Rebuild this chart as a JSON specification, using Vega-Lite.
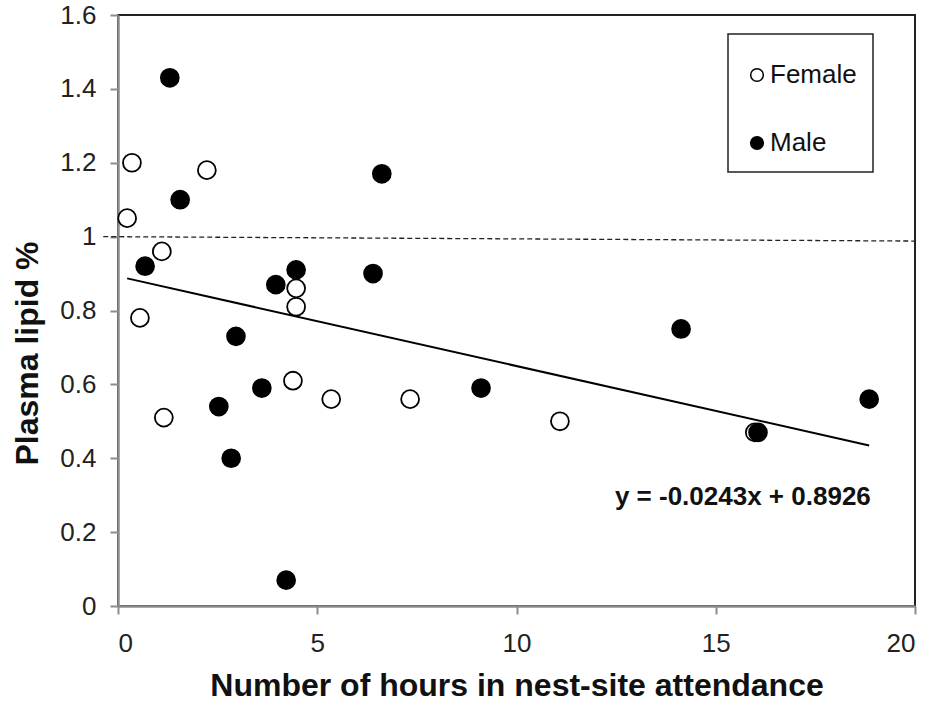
{
  "$schema": "https://vega.github.io/schema/vega-lite/v6.json",
  "width": 797,
  "height": 591,
  "autosize": {"type": "none"},
  "padding": {"left": 118, "top": 15, "right": 15, "bottom": 104},
  "background": "white",
  "config": {
    "font": "Liberation Sans",
    "view": {"stroke": "#222", "strokeWidth": 2},
    "axis": {
      "grid": false,
      "domainColor": "#8c8c8c",
      "domainWidth": 2.5,
      "tickColor": "#8c8c8c",
      "tickWidth": 2,
      "tickSize": 8,
      "labelFont": "Liberation Sans",
      "labelFontSize": 26,
      "labelColor": "#222",
      "titleFont": "Liberation Sans",
      "titleFontSize": 32,
      "titleFontWeight": "bold",
      "titleColor": "#111"
    },
    "legend": {
      "orient": "none",
      "legendX": 610,
      "legendY": 19,
      "strokeColor": "#222",
      "strokeWidth": 1.5,
      "fillColor": "white",
      "padding": 16,
      "rowPadding": 42,
      "titleFontSize": 1,
      "titlePadding": 11,
      "labelFont": "Liberation Sans",
      "labelFontSize": 26,
      "labelColor": "#111",
      "labelOffset": 0,
      "symbolSize": 160,
      "symbolStrokeColor": "black",
      "symbolStrokeWidth": 1.5,
      "symbolType": "circle"
    }
  },
  "datasets": {
    "points": [
      {"sex": "Female", "hours": 0.23, "lipid": 1.05},
      {"sex": "Female", "hours": 0.35, "lipid": 1.20},
      {"sex": "Female", "hours": 2.23, "lipid": 1.18},
      {"sex": "Female", "hours": 1.10, "lipid": 0.96},
      {"sex": "Female", "hours": 0.55, "lipid": 0.78},
      {"sex": "Female", "hours": 1.15, "lipid": 0.51},
      {"sex": "Female", "hours": 4.47, "lipid": 0.86},
      {"sex": "Female", "hours": 4.47, "lipid": 0.81},
      {"sex": "Female", "hours": 4.39, "lipid": 0.61},
      {"sex": "Female", "hours": 5.35, "lipid": 0.56},
      {"sex": "Female", "hours": 7.33, "lipid": 0.56},
      {"sex": "Female", "hours": 11.09, "lipid": 0.50},
      {"sex": "Female", "hours": 15.98, "lipid": 0.47},
      {"sex": "Male", "hours": 1.30, "lipid": 1.43},
      {"sex": "Male", "hours": 1.56, "lipid": 1.10},
      {"sex": "Male", "hours": 0.68, "lipid": 0.92},
      {"sex": "Male", "hours": 2.96, "lipid": 0.73},
      {"sex": "Male", "hours": 2.53, "lipid": 0.54},
      {"sex": "Male", "hours": 3.61, "lipid": 0.59},
      {"sex": "Male", "hours": 2.84, "lipid": 0.40},
      {"sex": "Male", "hours": 3.96, "lipid": 0.87},
      {"sex": "Male", "hours": 4.47, "lipid": 0.91},
      {"sex": "Male", "hours": 4.22, "lipid": 0.07},
      {"sex": "Male", "hours": 6.40, "lipid": 0.90},
      {"sex": "Male", "hours": 6.62, "lipid": 1.17},
      {"sex": "Male", "hours": 9.11, "lipid": 0.59},
      {"sex": "Male", "hours": 14.13, "lipid": 0.75},
      {"sex": "Male", "hours": 16.06, "lipid": 0.47},
      {"sex": "Male", "hours": 18.85, "lipid": 0.56}
    ],
    "refline": [
      {"hours": -0.37, "lipid": 1.0},
      {"hours": 20, "lipid": 0.988}
    ],
    "trend": [
      {"hours": 0.23, "lipid": 0.887},
      {"hours": 18.85, "lipid": 0.4346}
    ],
    "label": [
      {"hours": 15.68, "lipid": 0.295, "text": "y = -0.0243x + 0.8926"}
    ]
  },
  "layer": [
    {
      "data": {"name": "refline"},
      "mark": {"type": "line", "stroke": "#222", "strokeWidth": 1.3, "strokeDash": [5, 3], "clip": false},
      "encoding": {
        "x": {"field": "hours", "type": "quantitative"},
        "y": {"field": "lipid", "type": "quantitative"}
      }
    },
    {
      "data": {"name": "trend"},
      "mark": {"type": "line", "stroke": "black", "strokeWidth": 2},
      "encoding": {
        "x": {"field": "hours", "type": "quantitative"},
        "y": {"field": "lipid", "type": "quantitative"}
      }
    },
    {
      "data": {"name": "points"},
      "mark": {"type": "point", "shape": "circle", "filled": true, "stroke": "black", "strokeWidth": 1.8, "size": 320, "opacity": 1},
      "encoding": {
        "x": {
          "field": "hours", "type": "quantitative",
          "scale": {"domain": [0, 20], "nice": false, "zero": false},
          "axis": {"values": [0, 5, 10, 15, 20], "title": "Number of hours in nest-site attendance", "labelPadding": 16, "titlePadding": 14, "format": "~g"}
        },
        "y": {
          "field": "lipid", "type": "quantitative",
          "scale": {"domain": [0, 1.6], "nice": false, "zero": false},
          "axis": {"values": [0, 0.2, 0.4, 0.6, 0.8, 1, 1.2, 1.4, 1.6], "title": "Plasma lipid %", "labelPadding": 14, "titlePadding": 15, "titleY": 338, "format": "~g"}
        },
        "fill": {
          "field": "sex", "type": "nominal",
          "scale": {"domain": ["Female", "Male"], "range": ["white", "black"]},
          "legend": {"title": " "}
        }
      }
    },
    {
      "data": {"name": "label"},
      "mark": {"type": "text", "fontSize": 26, "fontWeight": "bold", "font": "Liberation Sans", "color": "#111", "align": "center", "baseline": "middle"},
      "encoding": {
        "x": {"field": "hours", "type": "quantitative"},
        "y": {"field": "lipid", "type": "quantitative"},
        "text": {"field": "text"}
      }
    }
  ]
}
